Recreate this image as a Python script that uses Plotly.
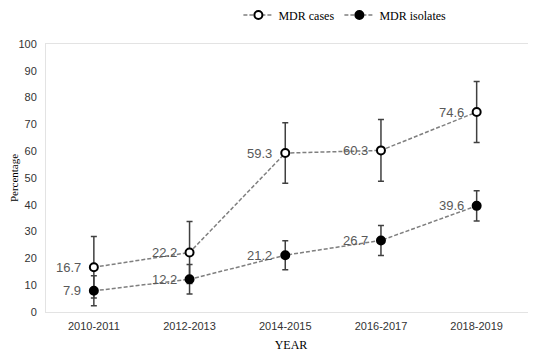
import plotly.graph_objects as go

years = ["2010-2011", "2012-2013", "2014-2015", "2016-2017", "2018-2019"]
mdr_cases = [16.7, 22.2, 59.3, 60.3, 74.6]
mdr_cases_err = [11.5, 11.6, 11.3, 11.5, 11.4]
mdr_isolates = [7.9, 12.2, 21.2, 26.7, 39.6]
mdr_isolates_err = [5.6, 5.5, 5.4, 5.6, 5.6]
y_ticks = [0, 10, 20, 30, 40, 50, 60, 70, 80, 90, 100]

fig = go.Figure()

def add_series(name, vals, errs, fill):
    fig.add_trace(go.Scatter(
        x=years, y=vals, name=name, mode="lines+markers",
        line=dict(color="#7f7f7f", width=1.5, dash="4px,2px"),
        marker=dict(symbol="circle", size=8, color=fill,
                    line=dict(color="black", width=2)),
        error_y=dict(type="data", array=errs, visible=True,
                     color="#404040", thickness=1.5, width=3),
        cliponaxis=False,
    ))
    for x, v in zip(years, vals):
        fig.add_annotation(x=x, y=v, text=f"{v:.1f}", showarrow=False,
                           xanchor="right", yanchor="middle", xshift=-11,
                           font=dict(family="Liberation Sans, Arial", size=13, color="#595959"))

add_series("MDR cases", mdr_cases, mdr_cases_err, "white")
add_series("MDR isolates", mdr_isolates, mdr_isolates_err, "black")

fig.update_layout(
    width=528, height=344,
    margin=dict(l=38, r=0, t=36, b=40, autoexpand=False),
    paper_bgcolor="white", plot_bgcolor="white",
    showlegend=True,
    legend=dict(orientation="h", x=0.61, xanchor="center", y=1.108, yref="paper",
                yanchor="middle",
                font=dict(family="Liberation Serif, Times New Roman", size=12, color="black"),
                itemwidth=30, tracegroupgap=0),
    xaxis=dict(
        type="category", range=[-0.5, 4.62], automargin=False,
        showline=True, linecolor="#e3e3e3", linewidth=1, mirror=True,
        showgrid=False, zeroline=False, ticks="",
        tickfont=dict(family="Liberation Sans, Arial", size=11, color="#333333"),
        ticklabelstandoff=4,
        title=dict(text="YEAR", standoff=10,
                   font=dict(family="Liberation Serif, Times New Roman", size=12, color="black")),
    ),
    yaxis=dict(
        range=[0, 100], tickvals=y_ticks, automargin=False,
        showline=True, linecolor="#e3e3e3", linewidth=1,
        showgrid=False, zeroline=False, ticks="",
        tickfont=dict(family="Liberation Sans, Arial", size=11, color="#333333"),
        ticklabelstandoff=6,
        title=dict(text="Percentage", standoff=0,
                   font=dict(family="Liberation Serif, Times New Roman", size=11, color="black")),
    ),
)

fig.write_html("out.html")
